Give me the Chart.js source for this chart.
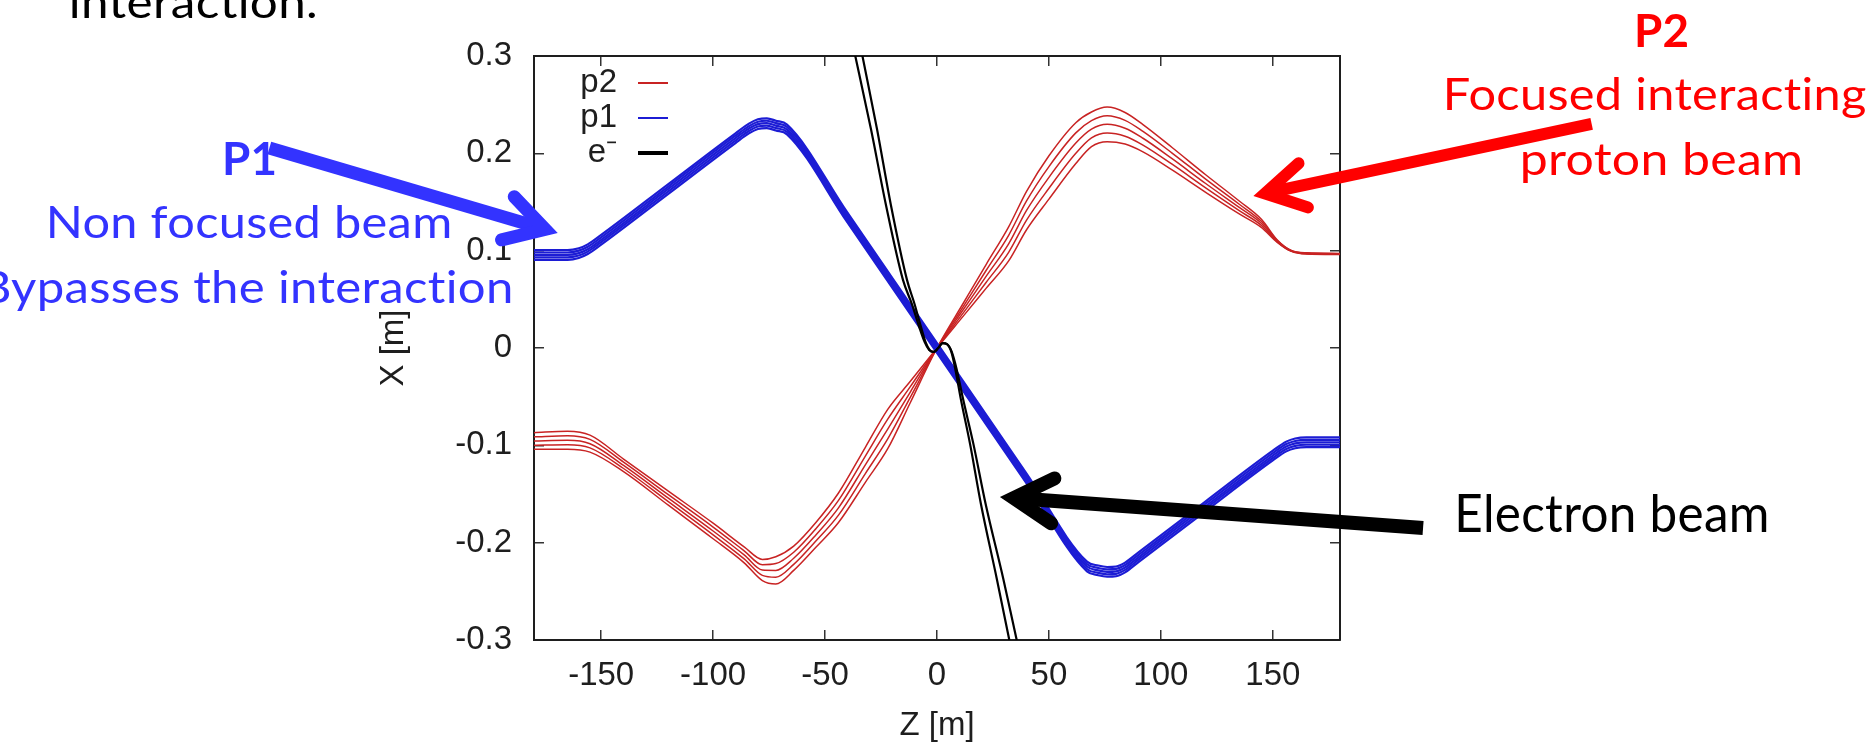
<!DOCTYPE html>
<html><head><meta charset="utf-8">
<style>html,body{margin:0;padding:0;background:#fff;}canvas{display:block;}</style>
<script src="https://cdn.jsdelivr.net/npm/chart.js@4.4.1/dist/chart.umd.min.js"></script>
</head><body>
<canvas id="c" width="1872" height="744" style="width:1872px;height:744px"></canvas>
<script>
// ---------- axis ticks ----------
const zTicks = [-150, -100, -50, 0, 50, 100, 150];
const zTickLabels = ['-150', '-100', '-50', '0', '50', '100', '150'];
const xTicks = [-0.3, -0.2, -0.1, 0, 0.1, 0.2, 0.3];
const xTickLabels = ['-0.3', '-0.2', '-0.1', '0', '0.1', '0.2', '0.3'];

// ---------- p2 : focused interacting proton beam (5 trajectories) ----------
const redZ = [-180,-165,-155,-140,-120,-100,-86,-78,-72,-64,-54,-44,-32,-22,-12,0,12,22,32,40,50,62,69,76,84,92,105,120,135,145,152,158,165,180];
const p2a = [-0.104,-0.104,-0.107,-0.127,-0.1615,-0.196,-0.221,-0.239,-0.2425,-0.2285,-0.2045,-0.1793,-0.138,-0.1035,-0.0565,0,0.047,0.086,0.1245,0.161,0.1975,0.2315,0.2425,0.2475,0.242,0.2295,0.206,0.178,0.151,0.132,0.111,0.1005,0.0978,0.0972];
const p2b = [-0.0998,-0.0994,-0.1026,-0.1238,-0.1579,-0.192,-0.2169,-0.2336,-0.2355,-0.2223,-0.1981,-0.1717,-0.129,-0.0934,-0.051,0,0.0436,0.0799,0.1158,0.1511,0.1864,0.221,0.2336,0.2386,0.2339,0.2225,0.2003,0.1735,0.1477,0.1299,0.1104,0.1003,0.0975,0.0969];
const p2c = [-0.0955,-0.0948,-0.0983,-0.1206,-0.1543,-0.188,-0.2128,-0.2281,-0.2285,-0.216,-0.1918,-0.1642,-0.12,-0.0833,-0.0455,0,0.0403,0.0738,0.107,0.1413,0.1753,0.2105,0.2248,0.2298,0.2258,0.2155,0.1945,0.169,0.1444,0.1279,0.1098,0.1,0.0972,0.0966];
const p2d = [-0.0913,-0.0901,-0.0939,-0.1173,-0.1507,-0.184,-0.2086,-0.2227,-0.2215,-0.2098,-0.1854,-0.1566,-0.111,-0.0731,-0.04,0,0.0369,0.0676,0.0983,0.1314,0.1641,0.2,0.2159,0.2209,0.2176,0.2085,0.1888,0.1645,0.1411,0.1258,0.1091,0.0998,0.0968,0.0963];
const p2e = [-0.087,-0.0855,-0.0895,-0.1141,-0.1471,-0.18,-0.2045,-0.2172,-0.2145,-0.2035,-0.179,-0.149,-0.102,-0.063,-0.0345,0,0.0335,0.0615,0.0895,0.1215,0.153,0.1895,0.207,0.212,0.2095,0.2015,0.183,0.16,0.1378,0.1237,0.1085,0.0995,0.0965,0.096];

// ---------- p1 : non focused proton beam (5 trajectories) ----------
const blueZ = [-180,-165,-160,-156,-150,-120,-90,-84,-80,-76,-72,-67,-40,0,40,67,72,76,80,84,90,120,150,156,160,165,180];
const p1a = [0.1006,0.1006,0.1025,0.1065,0.1162,0.1684,0.2206,0.2305,0.235,0.236,0.2335,0.2295,0.139,0.005,-0.129,-0.2195,-0.2235,-0.225,-0.2245,-0.2205,-0.21,-0.1575,-0.1055,-0.0962,-0.093,-0.0919,-0.0919];
const p1b = [0.0981,0.0981,0.1,0.104,0.1137,0.1659,0.2181,0.228,0.2325,0.2335,0.231,0.227,0.1365,0.0025,-0.1315,-0.222,-0.226,-0.2275,-0.227,-0.223,-0.2125,-0.16,-0.108,-0.0987,-0.0955,-0.0944,-0.0944];
const p1c = [0.0956,0.0956,0.0975,0.1015,0.1112,0.1634,0.2156,0.2255,0.23,0.231,0.2285,0.2245,0.134,0,-0.134,-0.2245,-0.2285,-0.23,-0.2295,-0.2255,-0.215,-0.1625,-0.1105,-0.1012,-0.098,-0.0969,-0.0969];
const p1d = [0.0931,0.0931,0.095,0.099,0.1087,0.1609,0.2131,0.223,0.2275,0.2285,0.226,0.222,0.1315,-0.0025,-0.1365,-0.227,-0.231,-0.2325,-0.232,-0.228,-0.2175,-0.165,-0.113,-0.1037,-0.1005,-0.0994,-0.0994];
const p1e = [0.0906,0.0906,0.0925,0.0965,0.1062,0.1584,0.2106,0.2205,0.225,0.226,0.2235,0.2195,0.129,-0.005,-0.139,-0.2295,-0.2335,-0.235,-0.2345,-0.2305,-0.22,-0.1675,-0.1155,-0.1062,-0.103,-0.1019,-0.1019];

// ---------- e- : electron beam (2 trajectories) ----------
const eX  = [0.32,0.30,0.225,0.147,0.07,0.045,0.022,0.006,-0.002,-0.004,0.0,0.005,0.004,-0.004,-0.022,-0.052,-0.099,-0.16,-0.237,-0.30,-0.32];
const eZa = [-38.4,-36.5,-29.5,-22.8,-15.2,-11.2,-8.0,-5.5,-3.5,-1.5,0.5,2.5,4.5,6.6,8.8,11.6,16.3,21.7,29.6,35.6,37.6];
const eZb = [-35.0,-33.3,-26.8,-20.6,-13.4,-10.0,-7.2,-5.1,-3.3,-1.3,0.6,2.6,4.4,6.4,8.2,10.6,14.8,19.6,26.7,32.3,34.0];

// ---------- slide annotations ----------
const arrows = [ // [z, x] data coordinates: tail -> tip
  {from: [-298.2, 0.2055], to: [-169.4, 0.1182], color: '#3333ff', width: 13},
  {from: [292.4, 0.2302], to: [141.3, 0.1562], color: '#ff0000', width: 12},
  {from: [217.1, -0.185], to: [28.1, -0.1531], color: '#000000', width: 14}
];
const notes = [
  {text: 'interaction.', left: 71, width: 245, baseline: 18, size: 45, weight: 'normal', color: '#000000'},
  {text: 'P1', left: 225, width: 50, baseline: 175, size: 45, weight: 'bold', color: '#3333ff'},
  {text: 'Non focused beam', left: 50, width: 400, baseline: 238, size: 45, weight: 'normal', color: '#3333ff'},
  {text: 'Bypasses the interaction', left: -16, width: 527, baseline: 303, size: 45, weight: 'normal', color: '#3333ff'},
  {text: 'P2', left: 1637, width: 51, baseline: 47, size: 45, weight: 'bold', color: '#ff0000'},
  {text: 'Focused interacting', left: 1447, width: 419, baseline: 110, size: 45, weight: 'normal', color: '#ff0000'},
  {text: 'proton beam', left: 1523, width: 278, baseline: 175, size: 45, weight: 'normal', color: '#ff0000'},
  {text: 'Electron beam', left: 1458, width: 309, baseline: 532, size: 53, weight: 'normal', color: '#000000'}
];

const RED = 'rgb(200,35,35)', BLUE = 'rgb(28,28,212)', BLACK = '#000000';
const AX = '#1e1e1e';
const FONT = "'Liberation Sans', Arial, sans-serif";

const pts = (zs, xs) => zs.map((z, i) => ({x: z, y: xs[i]}));
const datasets = [];
[p2a, p2b, p2c, p2d, p2e].forEach((ys, i) => datasets.push({
  label: i === 0 ? 'p2' : '', data: pts(redZ, ys), borderColor: RED, borderWidth: 1.5, order: 3, legendWidth: 2
}));
[p1a, p1b, p1c, p1d, p1e].forEach((ys, i) => datasets.push({
  label: i === 0 ? 'p1' : '', data: pts(blueZ, ys), borderColor: BLUE, borderWidth: 2.2, order: 2, legendWidth: 2
}));
[eZa, eZb].forEach((zs, i) => datasets.push({
  label: i === 0 ? 'e\u207B' : '', data: pts(zs, eX), borderColor: BLACK, borderWidth: 2.2, order: 1, legendWidth: 4
}));

function drawArrow(ctx, x0, y0, x1, y1, color, w) {
  const headAng = Math.PI / 6, headLen = 45;
  const back = Math.atan2(y0 - y1, x0 - x1);
  const off = (w / 2) / Math.sin(headAng);
  const vx = x1 + off * Math.cos(back), vy = y1 + off * Math.sin(back);
  ctx.strokeStyle = color; ctx.lineWidth = w;
  ctx.lineCap = 'butt';
  ctx.beginPath(); ctx.moveTo(x0, y0); ctx.lineTo(vx, vy); ctx.stroke();
  ctx.lineCap = 'round'; ctx.lineJoin = 'miter'; ctx.miterLimit = 10;
  ctx.beginPath();
  ctx.moveTo(vx + headLen * Math.cos(back - headAng), vy + headLen * Math.sin(back - headAng));
  ctx.lineTo(vx, vy);
  ctx.lineTo(vx + headLen * Math.cos(back + headAng), vy + headLen * Math.sin(back + headAng));
  ctx.stroke();
}
function fitText(ctx, t) {
  ctx.save();
  ctx.font = `${t.weight} ${t.size}px Lato, 'Open Sans', sans-serif`;
  ctx.textAlign = 'left'; ctx.textBaseline = 'alphabetic';
  if ('letterSpacing' in ctx) ctx.letterSpacing = '0.3px'; // avoids the Lato "ti" ligature
  if ('textRendering' in ctx) ctx.textRendering = 'optimizeSpeed';
  const m = ctx.measureText(t.text);
  const ink = m.actualBoundingBoxLeft + m.actualBoundingBoxRight;
  const s = t.width / ink;
  ctx.translate(t.left, t.baseline);
  ctx.scale(s, 1);
  ctx.fillStyle = t.color;
  ctx.fillText(t.text, m.actualBoundingBoxLeft, 0);
  ctx.restore();
}

const overlay = {
  id: 'overlay',
  afterDraw(chart) {
    const ctx = chart.ctx, a = chart.chartArea;
    const xs = chart.scales.x, ys = chart.scales.y;
    ctx.save();
    // gnuplot-style key: text right-aligned, sample line after it
    let row = 0;
    chart.data.datasets.forEach(ds => {
      if (!ds.label) return;
      const y = a.top + 27 + row * 35;
      ctx.font = `33px ${FONT}`;
      ctx.fillStyle = AX; ctx.textAlign = 'right'; ctx.textBaseline = 'middle';
      ctx.fillText(ds.label, a.left + 83, y);
      ctx.strokeStyle = ds.borderColor; ctx.lineWidth = ds.legendWidth; ctx.lineCap = 'butt';
      ctx.beginPath(); ctx.moveTo(a.left + 104, y); ctx.lineTo(a.left + 134, y); ctx.stroke();
      row++;
    });
    arrows.forEach(r => drawArrow(ctx,
      xs.getPixelForValue(r.from[0]), ys.getPixelForValue(r.from[1]),
      xs.getPixelForValue(r.to[0]), ys.getPixelForValue(r.to[1]), r.color, r.width));
    notes.forEach(n => fitText(ctx, n));
    ctx.restore();
  }
};

const tickFont = {family: FONT, size: 33};
const gridOpts = {drawOnChartArea: false, drawTicks: true, tickLength: -10, color: '#333', lineWidth: 1.5};
const borderOpts = {display: true, color: AX, width: 2};

new Chart(document.getElementById('c'), {
  type: 'line',
  data: {datasets},
  options: {
    responsive: false, animation: false, devicePixelRatio: 1, events: [],
    layout: {padding: {left: 374, right: 532, top: 56, bottom: 0}},
    elements: {point: {radius: 0}, line: {cubicInterpolationMode: 'monotone', fill: false}},
    plugins: {legend: {display: false}, tooltip: {enabled: false}},
    scales: {
      x: {
        type: 'linear', position: 'bottom', min: -180, max: 180,
        afterBuildTicks: s => { s.ticks = zTicks.map(v => ({value: v})); },
        afterFit: s => { s.height = 104; },
        ticks: {callback: (v, i) => zTickLabels[i], font: tickFont, color: AX, padding: 26, maxRotation: 0, autoSkip: false},
        grid: gridOpts, border: borderOpts,
        title: {display: true, text: 'Z [m]', color: AX, font: {family: FONT, size: 33, lineHeight: 1.1}, padding: 0}
      },
      y: {
        type: 'linear', position: 'left', min: -0.3, max: 0.3,
        afterBuildTicks: s => { s.ticks = xTicks.map(v => ({value: v})); },
        afterFit: s => { s.width = 160; },
        ticks: {callback: (v, i) => xTickLabels[i], font: tickFont, color: AX, padding: 32, autoSkip: false},
        grid: gridOpts, border: borderOpts,
        title: {display: true, text: 'X [m]', color: AX, font: {family: FONT, size: 33, lineHeight: 1.2}, padding: 0}
      },
      x2: {
        type: 'linear', position: 'top', min: -180, max: 180,
        afterBuildTicks: s => { s.ticks = zTicks.map(v => ({value: v})); },
        afterFit: s => { s.height = 0; },
        ticks: {display: false}, grid: gridOpts, border: borderOpts
      },
      y2: {
        type: 'linear', position: 'right', min: -0.3, max: 0.3,
        afterBuildTicks: s => { s.ticks = xTicks.map(v => ({value: v})); },
        afterFit: s => { s.width = 0; },
        ticks: {display: false}, grid: gridOpts, border: borderOpts
      }
    }
  },
  plugins: [overlay]
});
</script>
</body></html>
